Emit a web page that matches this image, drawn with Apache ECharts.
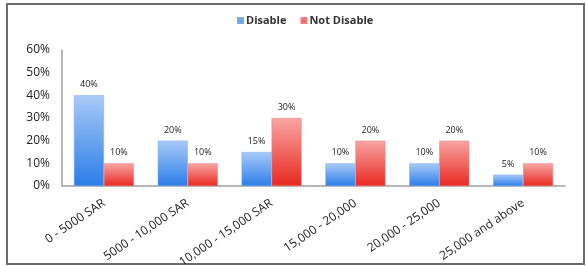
<!DOCTYPE html>
<html>
<head>
	<meta charset="UTF-8">
	<title>Income vs disability</title>
	<style>
		html, body { margin: 0; padding: 0; background: #fff; }
		#frame { position: absolute; left: 6px; top: 3px; width: 575px; height: 258px; border: 2px solid #6b6b6b; box-sizing: content-box; }
		#main { position: absolute; left: 0; top: 0; width: 586px; height: 266px; }
	</style>
</head>
<body>
	<div id="frame"></div>
	<div id="main"></div>

	<script src="https://cdn.jsdelivr.net/npm/echarts@6/dist/echarts.min.js"></script>
	<script type="text/javascript">
		// data
		var categories = ['0 - 5000 SAR', '5000 - 10,000 SAR', '10,000 - 15,000 SAR', '15,000 - 20,000', '20,000 - 25,000', '25,000 and above'];
		var disable = [40, 20, 15, 10, 10, 5];
		var notDisable = [10, 10, 30, 20, 20, 10];

		var myChart = echarts.init(document.getElementById('main'));

		function grad(top, bottom) {
			return new echarts.graphic.LinearGradient(0, 0, 0, 1, [
				{ offset: 0, color: top },
				{ offset: 1, color: bottom }
			]);
		}

		var font = '"Open Sans", "DejaVu Sans", sans-serif';

		var option = {
			textStyle: { fontFamily: font },
			animation: false,
			color: ['#2b7de9', '#e8281f'], // legend swatches
			legend: {
				data: ['Disable', 'Not Disable'],
				top: 10,
				left: 232,
				itemWidth: 5,
				itemHeight: 5,
				itemGap: 14,
				icon: 'rect',
				textStyle: { fontSize: 11, fontWeight: 'bold', color: '#333', fontFamily: font, padding: [0, 0, 0, -2] }
			},
			grid: {
				left: 62,
				right: 21,
				top: 50,
				bottom: 80,
				containLabel: false,
				outerBoundsMode: 'none'
			},
			xAxis: {
				type: 'category',
				data: categories,
				axisLine: { lineStyle: { color: '#a0a0a0', width: 1.5 } },
				axisTick: { show: false },
				axisLabel: {
					rotate: 34,
					interval: 0,
					fontSize: 12,
					color: '#222',
					margin: 16
				}
			},
			yAxis: {
				type: 'value',
				min: 0,
				max: 60,
				interval: 10,
				splitLine: { show: false },
				axisLine: { show: true, lineStyle: { color: '#a0a0a0', width: 1.5 } },
				axisTick: { show: false },
				axisLabel: {
					formatter: '{value}%',
					fontSize: 12,
					color: '#222',
					margin: 12
				}
			},
			series: [{
				name: 'Disable',
				type: 'bar',
				data: disable,
				barWidth: 30,
				barGap: '0%',
				itemStyle: { color: grad('#a9cbf7', '#2b7de9'), borderColor: '#7aaaf0', borderWidth: 0.5 },
				label: { show: true, position: 'top', formatter: '{c}%', fontSize: 9, color: '#222', distance: 6 }
			}, {
				name: 'Not Disable',
				type: 'bar',
				data: notDisable,
				barWidth: 30,
				itemStyle: { color: grad('#f9a6a4', '#e8281f'), borderColor: '#f08080', borderWidth: 0.5 },
				label: { show: true, position: 'top', formatter: '{c}%', fontSize: 9, color: '#222', distance: 6 }
			}]
		};

		myChart.setOption(option);
	</script>
</body>
</html>
